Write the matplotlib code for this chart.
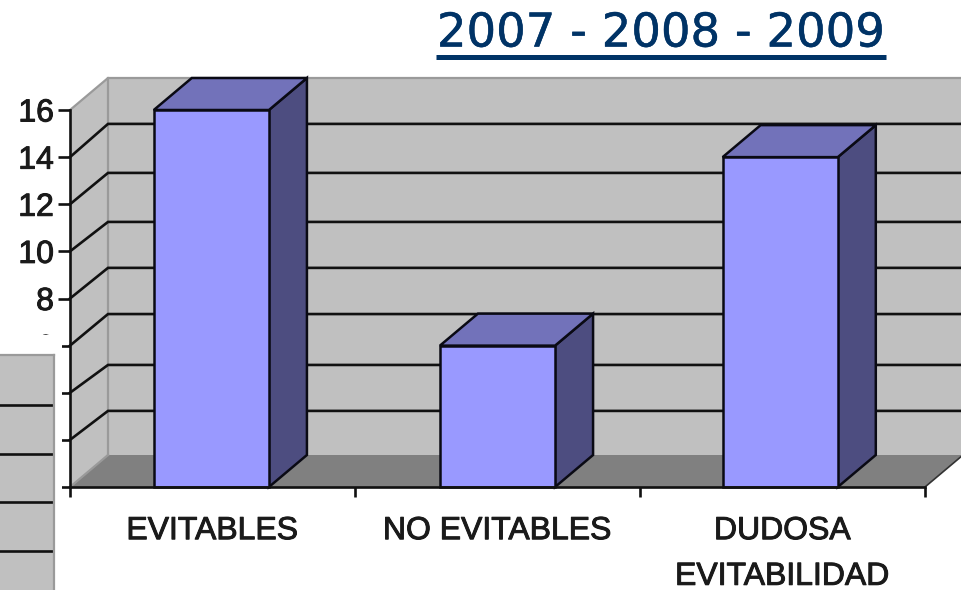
import matplotlib
matplotlib.use("Agg")
import matplotlib.pyplot as plt
import matplotlib.patheffects as pe
from matplotlib.patches import Polygon, Rectangle
from matplotlib.lines import Line2D

categories = ["EVITABLES", "NO EVITABLES", "DUDOSA\nEVITABILIDAD"]
values = [16, 6, 14]
yticks = [0, 2, 4, 6, 8, 10, 12, 14, 16]
wall_grid = [3.23, 5.18, 7.34, 9.30, 11.25, 13.33, 15.41]
title = "2007 - 2008 - 2009"
panel_ticks = [2, 4, 6, 8]

W, H = 961, 590
SANS = ["Liberation Sans", "DejaVu Sans"]
WALL, FLOOR, FRONT, SIDE, TOP = "#C0C0C0", "#808080", "#9999FF", "#4D4D80", "#7272BA"
INK = "#111111"

fig = plt.figure(figsize=(W / 100, H / 100), dpi=100, facecolor="white")
ax = fig.add_axes([70 / W, (H - 487) / H, (925 - 70) / W, (487 - 110) / H], zorder=1)
ax.set_xlim(-0.5, 2.5)
ax.set_ylim(0, 16)
ax.patch.set_visible(False)

dx = 38 / (855 / 3)
dy = 32 / (377 / 16)
bw = 0.404
nudge = [-0.004, 0, -0.008]
ymax = 16


def poly(pts, fc, ec="none", lw=0, z=1):
    ax.add_patch(Polygon(pts, closed=True, facecolor=fc, edgecolor=ec, linewidth=lw,
                         clip_on=False, zorder=z))


x0, x1 = -0.5, 2.5
# walls and floor
poly([(x0 + dx, dy), (x1 + dx, dy), (x1 + dx, ymax + dy), (x0 + dx, ymax + dy)], WALL, z=1)
poly([(x0, 0), (x0 + dx, dy), (x0 + dx, ymax + dy), (x0, ymax)], WALL, z=1)
poly([(x0, 0), (x0 + dx, dy), (x1 + dx, dy), (x1, 0)], FLOOR, z=1.1)
for xs, ys in [([x0 + dx, x0 + dx], [dy, ymax + dy]),
               ([x0, x0 + dx, x1 + dx], [ymax, ymax + dy, ymax + dy]),
               ([x0, x0 + dx], [0, dy])]:
    ax.plot(xs, ys, color="#9A9A9A", lw=1.6, clip_on=False, zorder=1.2)
for t, g in zip(yticks[1:-1], wall_grid):
    ax.plot([x0, x0 + dx, x1 + dx], [t, g, g], color=INK, lw=1.9,
            clip_on=False, zorder=1.3, solid_joinstyle="miter")
ax.plot([x1, x1 + dx], [0, dy], color="#333333", lw=1.2, clip_on=False, zorder=1.3)

# bars
for i, v in enumerate(values):
    l, r = i - bw / 2 + nudge[i], i + bw / 2 + nudge[i]
    ec = "#0A0A14"
    poly([(r, 0), (r + dx, dy), (r + dx, v + dy), (r, v)], SIDE, ec, 1.8, 2)
    poly([(l, v), (r, v), (r + dx, v + dy), (l + dx, v + dy)], TOP, ec, 1.8, 2)
    poly([(l, 0), (r, 0), (r, v), (l, v)], FRONT, ec, 1.8, 2.1)

# axes
for s in ("top", "right"):
    ax.spines[s].set_visible(False)
for s in ("left", "bottom"):
    ax.spines[s].set_linewidth(1.9)
    ax.spines[s].set_color(INK)
    ax.spines[s].set_zorder(3)
stroke = [pe.withStroke(linewidth=0.7, foreground="#1A1A1A")]
ax.set_yticks(yticks)
ax.set_yticklabels([str(t) for t in yticks], family=SANS, fontsize=23, color="#1A1A1A",
                   path_effects=stroke)
ax.tick_params(axis="y", length=8.6, width=1.9, pad=3, color=INK)
ax.set_xticks(range(3))
ax.set_xticklabels(categories, family=SANS, fontsize=23, color="#1A1A1A", linespacing=1.68,
                   path_effects=stroke)
ax.tick_params(axis="x", which="major", length=0, pad=21)
ax.set_xticks([-0.5, 0.5, 1.5, 2.5], minor=True)
ax.tick_params(axis="x", which="minor", length=7, width=1.9, color=INK)

# white cover hiding lower tick labels
fig.add_artist(Rectangle((0, 0), 62 / W, (H - 335) / H, transform=fig.transFigure,
                         facecolor="white", edgecolor="none", zorder=5))

# fragment of another chart at lower left
ax2 = fig.add_axes([0, 0, 54 / W, (H - 355) / H], zorder=6, facecolor=WALL)
ax2.set_xlim(0, 1)
ax2.set_ylim(2 - 39 / 24, 8 + 50 / 24)
ax2.set_xticks([])
ax2.set_yticks(panel_ticks)
ax2.set_yticklabels([])
ax2.tick_params(length=0)
ax2.grid(axis="y", color=INK, lw=1.9)
for s in ("left", "bottom"):
    ax2.spines[s].set_visible(False)
for s in ("top", "right"):
    ax2.spines[s].set_color("#9A9A9A")
    ax2.spines[s].set_linewidth(1.6)

# title
fig.text(661 / W, 1 - 34 / H, title, family=["DejaVu Sans"], fontsize=33.5,
         color="#003366", ha="center", va="center",
         path_effects=[pe.withStroke(linewidth=0.35, foreground="#003366")])
fig.add_artist(Line2D([436 / W, 886 / W], [1 - 56.5 / H, 1 - 56.5 / H], color="#003366",
                      lw=3.6, solid_capstyle="butt"))

fig.savefig("out.png", dpi=100, facecolor="white")
